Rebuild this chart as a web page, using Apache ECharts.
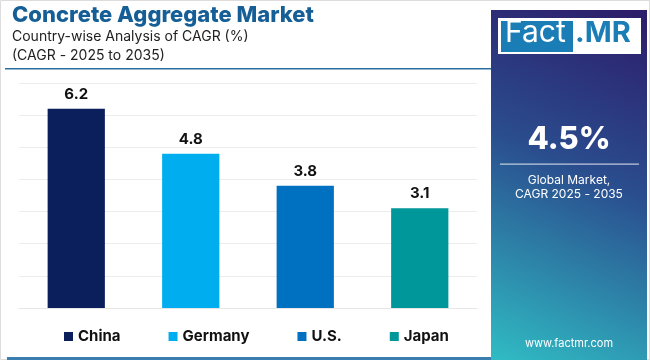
<!DOCTYPE html>
<html><head><meta charset="utf-8">
<script src="https://cdn.jsdelivr.net/npm/echarts@6/dist/echarts.min.js"></script>
<style>html,body{margin:0;padding:0;background:#fff}#c{width:650px;height:360px}</style>
</head><body><div id="c"></div>
<script>
const categories = ['China', 'Germany', 'U.S.', 'Japan'];
const values = [6.2, 4.8, 3.8, 3.1];
const colors = ['#0b1f5c', '#00aeef', '#0070c0', '#00979a'];
const yTicks = [0, 1, 2, 3, 4, 5, 6, 7];
const globalCagr = '4.5%';

const FONT = 'Inter, "Open Sans", sans-serif';
const chart = echarts.init(document.getElementById('c'), null, {renderer: 'canvas'});

const series = categories.map((name, i) => ({
  name: name,
  type: 'bar',
  barWidth: '50%',
  barGap: '-100%',
  itemStyle: {color: colors[i]},
  label: {show: true, position: 'top', distance: 7, color: '#111', fontFamily: FONT, fontWeight: 700, fontSize: 15,
          formatter: p => p.value.toFixed(1)},
  data: categories.map((c, j) => j === i ? values[i] : null)
}));

chart.setOption({
  animation: false,
  backgroundColor: '#fff',
  grid: {left: 19, right: 173, top: 83, bottom: 52},
  xAxis: {type: 'category', data: categories, axisLine: {lineStyle: {color: '#e6e6e6'}}, axisTick: {show: false}, axisLabel: {show: false}},
  yAxis: {type: 'value', min: yTicks[0], max: yTicks[yTicks.length - 1], interval: 1, axisLabel: {show: false},
          splitLine: {lineStyle: {color: '#ececec'}}},
  legend: {left: 59, top: 324, itemWidth: 9, itemHeight: 9, itemGap: 48, icon: 'rect',
           textStyle: {fontFamily: FONT, fontWeight: 700, fontSize: 15, color: '#111'}, data: categories},
  series: series,
  graphic: [
    {type: 'rect', shape: {x: 0.5, y: 0.5, width: 649, height: 359}, style: {fill: 'none', stroke: '#dcdcdc', lineWidth: 1}, silent: true},
    {type: 'text', left: 12, top: 4, style: {text: 'Concrete Aggregate Market', fill: '#155f96', font: '800 22px ' + FONT}},
    {type: 'text', left: 12, top: 30, style: {text: 'Country-wise Analysis of CAGR (%)', fill: '#222', font: '400 14px ' + FONT}},
    {type: 'text', left: 12, top: 49, style: {text: '(CAGR - 2025 to 2035)', fill: '#222', font: '400 14px ' + FONT}},
    {type: 'rect', shape: {x: 5, y: 68, width: 486, height: 1.5}, style: {fill: '#2b6f9e'}},
    {type: 'rect', shape: {x: 7, y: 357, width: 484, height: 3}, style: {fill: '#3b7fb0'}},
    {type: 'rect', shape: {x: 491, y: 10, width: 156, height: 350},
     style: {fill: new echarts.graphic.LinearGradient(1, 0, 0, 1, [
       {offset: 0, color: '#2d1b69'}, {offset: 0.45, color: '#2a4d8e'}, {offset: 1, color: '#30bcc4'}])}},
    {type: 'rect', shape: {x: 498, y: 18, width: 143, height: 36}, style: {fill: '#fff'}},
    {type: 'rect', shape: {x: 501, y: 21, width: 72, height: 31}, style: {fill: '#1b7db6'}},
    {type: 'text', left: 505, top: 18, style: {text: 'Fact', fill: '#fff', font: '400 30px ' + FONT}},
    {type: 'text', left: 575, top: 19, style: {text: '.MR', fill: '#1b7db6', font: '700 29px ' + FONT}},
    {type: 'text', x: 569, y: 140, style: {text: globalCagr, fill: '#fff', font: '800 31px ' + FONT, textAlign: 'center', textVerticalAlign: 'middle'}},
    {type: 'rect', shape: {x: 500, y: 163.5, width: 139, height: 1.2}, style: {fill: 'rgba(255,255,255,0.7)'}},
    {type: 'text', x: 569, y: 180, style: {text: 'Global Market,', fill: '#fff', font: '400 12px ' + FONT, textAlign: 'center', textVerticalAlign: 'middle'}},
    {type: 'text', x: 569, y: 194, style: {text: 'CAGR 2025 - 2035', fill: '#fff', font: '400 12px ' + FONT, textAlign: 'center', textVerticalAlign: 'middle'}},
    {type: 'text', x: 569, y: 344, style: {text: 'www.factmr.com', fill: '#fff', font: '400 11px ' + FONT, textAlign: 'center', textVerticalAlign: 'middle'}}
  ]
});
</script></body></html>
